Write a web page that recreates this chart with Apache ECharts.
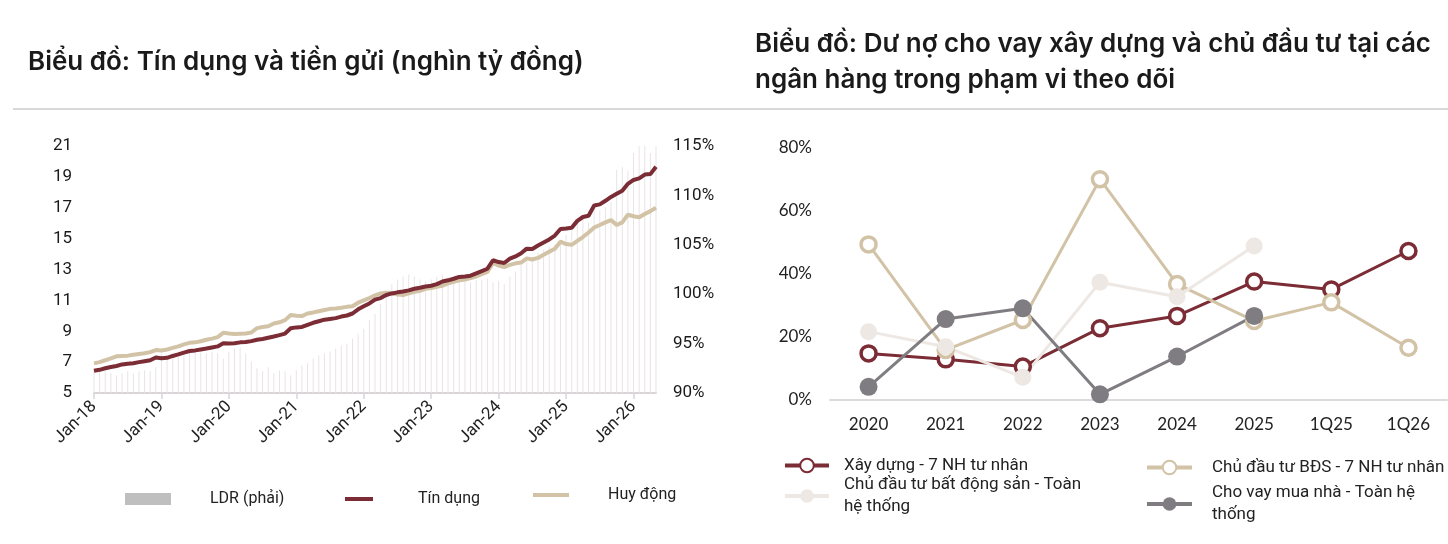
<!DOCTYPE html>
<html>
<head>
<meta charset="utf-8">
<script src="https://cdn.jsdelivr.net/npm/echarts@6/dist/echarts.min.js"></script>
<style>
  html, body { margin: 0; padding: 0; background: #fff; }
  #chart { width: 1448px; height: 544px; }
</style>
</head>
<body>
<div id="chart"></div>
<script>
// ---- left chart: tín dụng / huy động (nghìn tỷ đồng), LDR (%) ----
var monthNames = ['Jan', 'Feb', 'Mar', 'Apr', 'May', 'Jun', 'Jul', 'Aug', 'Sep', 'Oct', 'Nov', 'Dec'];
var years = ['18', '19', '20', '21', '22', '23', '24', '25', '26'];
var monthCount = 101; // Jan-18 .. May-26

var tinDung = [
  6.44, 6.50, 6.60, 6.68, 6.75, 6.85, 6.90, 6.93, 7.00, 7.06, 7.12, 7.30,
  7.25, 7.28, 7.40, 7.50, 7.62, 7.72, 7.76, 7.82, 7.88, 7.95, 8.02, 8.22,
  8.20, 8.22, 8.28, 8.30, 8.36, 8.45, 8.50, 8.58, 8.66, 8.75, 8.85, 9.19,
  9.25, 9.28, 9.42, 9.55, 9.65, 9.75, 9.80, 9.85, 9.95, 10.02, 10.15, 10.42,
  10.62, 10.80, 11.05, 11.15, 11.35, 11.45, 11.52, 11.58, 11.65, 11.75, 11.82, 11.90,
  11.95, 12.05, 12.22, 12.30, 12.40, 12.52, 12.55, 12.60, 12.75, 12.90, 13.05, 13.60,
  13.48, 13.42, 13.70, 13.85, 14.05, 14.35, 14.33, 14.55, 14.75, 14.95, 15.20, 15.62,
  15.65, 15.70, 16.15, 16.40, 16.48, 17.15, 17.22, 17.45, 17.70, 17.90, 18.10, 18.55,
  18.80, 18.90, 19.15, 19.18, 19.66
];

var huyDong = [
  6.92, 7.00, 7.12, 7.25, 7.38, 7.40, 7.42, 7.48, 7.53, 7.58, 7.65, 7.78,
  7.75, 7.82, 7.92, 8.02, 8.15, 8.25, 8.28, 8.35, 8.45, 8.52, 8.62, 8.90,
  8.85, 8.82, 8.84, 8.86, 8.92, 9.20, 9.28, 9.32, 9.50, 9.58, 9.72, 10.05,
  10.00, 9.98, 10.15, 10.22, 10.30, 10.38, 10.45, 10.48, 10.52, 10.58, 10.62, 10.85,
  11.00, 11.15, 11.32, 11.45, 11.50, 11.48, 11.38, 11.35, 11.45, 11.55, 11.62, 11.75,
  11.80, 11.88, 11.95, 12.10, 12.20, 12.30, 12.35, 12.45, 12.55, 12.70, 12.85, 13.42,
  13.25, 13.15, 13.30, 13.40, 13.45, 13.72, 13.65, 13.75, 13.95, 14.15, 14.35, 14.80,
  14.65, 14.60, 14.85, 15.10, 15.40, 15.72, 15.88, 16.05, 16.20, 15.88, 16.05, 16.55,
  16.45, 16.38, 16.60, 16.78, 17.00
];

var ldr = [
  92.5, 92.3, 92.2, 92.0, 91.8, 92.0, 92.2, 92.0, 92.2, 92.3, 92.2, 92.6,
  94.0, 93.8, 94.0, 94.2, 94.0, 94.2, 94.3, 94.1, 94.0, 94.2, 94.0, 93.5,
  94.2, 94.5, 94.6, 94.0, 93.2, 92.5, 92.2, 92.6, 92.0, 92.3, 92.2, 91.8,
  92.3, 92.8, 93.0, 93.5, 93.8, 94.0, 94.2, 94.5, 94.8, 95.0, 95.5, 96.0,
  96.5, 97.4, 98.0, 99.0, 100.0, 101.0, 101.5, 101.8, 102.0, 101.8, 101.5, 101.3,
  101.5, 101.8, 102.0, 101.8, 101.5, 101.8, 101.7, 101.2, 101.4, 101.5, 101.6, 101.2,
  101.3, 101.0, 101.8, 102.3, 103.0, 103.5, 103.8, 104.2, 104.5, 104.8, 105.0, 105.5,
  106.0, 106.5, 107.2, 107.8, 107.2, 108.5, 108.5, 108.8, 109.3, 112.6, 112.9, 112.5,
  114.3, 115.0, 115.0, 114.3, 115.0
];

// ---- right chart: tăng trưởng dư nợ (%) ----
var periods = ['2020', '2021', '2022', '2023', '2024', '2025', '1Q25', '1Q26'];
var xayDung7NH = [14.8, 12.9, 10.6, 22.8, 26.7, 37.6, 35.1, 47.3];
var cdtBds7NH = [49.4, 15.9, 25.4, 70.1, 36.8, 25.1, 31.0, 16.6];
var cdtBdsToanHT = [21.7, 16.9, 7.2, 37.4, 32.8, 48.9, null, null];
var muaNhaToanHT = [4.2, 25.7, 29.1, 1.8, 13.8, 26.7, null, null];

var months = [];
for (var i = 0; i < monthCount; i++) {
  months.push(monthNames[i % 12] + '-' + years[Math.floor(i / 12)]);
}

var RED = '#7b2c35';
var BEIGE = '#d2c3a7';
var LIGHT = '#eee8e4';
var GRAY = '#807d82';
var FONT = 'Roboto, "Noto Sans", sans-serif';
var TITLE_FONT = 'Inter, Roboto, sans-serif';

var isJan = function (idx) { return idx % 12 === 0; };

var chart = echarts.init(document.getElementById('chart'));

chart.setOption({
  animation: false,
  backgroundColor: '#fff',
  textStyle: { fontFamily: FONT },
  title: [
    {
      text: 'Biểu đồ: Tín dụng và tiền gửi (nghìn tỷ đồng)',
      left: 28, top: 47, padding: 0,
      textStyle: { fontFamily: TITLE_FONT, fontSize: 26, fontWeight: 600, color: '#1a1a1a', lineHeight: 30 }
    },
    {
      text: 'Biểu đồ: Dư nợ cho vay xây dựng và chủ đầu tư tại các\nngân hàng trong phạm vi theo dõi',
      left: 755, top: 26, padding: 0,
      textStyle: { fontFamily: TITLE_FONT, fontSize: 26, fontWeight: 600, color: '#1a1a1a', lineHeight: 36 }
    }
  ],
  graphic: [
    {
      type: 'line',
      shape: { x1: 13, y1: 109, x2: 1448, y2: 109 },
      style: { stroke: '#cdcdcd', lineWidth: 1.5 }
    }
  ],
  legend: [
    {
      data: ['LDR (phải)'], left: 120, top: 486, icon: 'rect',
      itemWidth: 46, itemHeight: 12, selectedMode: false,
      itemStyle: { color: '#bfbfbf' },
      textStyle: { fontSize: 16, color: '#222', padding: [4, 0, 0, 34] }
    },
    {
      data: ['Tín dụng'], left: 340, top: 486, icon: 'rect',
      itemWidth: 28, itemHeight: 4, selectedMode: false,
      textStyle: { fontSize: 16, color: '#222', padding: [12, 0, 0, 40] }
    },
    {
      data: ['Huy động'], left: 528, top: 482, icon: 'rect',
      itemWidth: 36, itemHeight: 4, selectedMode: false,
      textStyle: { fontSize: 16, color: '#222', padding: [0, 0, 4, 34] }
    },
    {
      data: ['Xây dựng - 7 NH tư nhân'], left: 778, top: 452,
      itemWidth: 44, itemHeight: 17, selectedMode: false,
      lineStyle: { width: 4 },
      textStyle: { fontSize: 17, color: '#222', padding: [0, 0, 0, 10] }
    },
    {
      data: ['Chủ đầu tư BĐS - 7 NH tư nhân'], left: 1140, top: 454,
      itemWidth: 45, itemHeight: 17, selectedMode: false,
      lineStyle: { width: 4 },
      textStyle: { fontSize: 17, color: '#222', padding: [0, 0, 0, 15] }
    },
    {
      data: ['Chủ đầu tư bất động sản - Toàn hệ thống'], left: 778, top: 469,
      itemWidth: 44, itemHeight: 17, selectedMode: false,
      lineStyle: { width: 4 },
      formatter: function () { return 'Chủ đầu tư bất động sản - Toàn\nhệ thống'; },
      textStyle: { fontSize: 17, color: '#222', lineHeight: 22, padding: [0, 0, 0, 10] }
    },
    {
      data: ['Cho vay mua nhà - Toàn hệ thống'], left: 1140, top: 477,
      itemWidth: 45, itemHeight: 17, selectedMode: false,
      lineStyle: { width: 4 },
      formatter: function () { return 'Cho vay mua nhà - Toàn hệ\nthống'; },
      textStyle: { fontSize: 17, color: '#222', lineHeight: 22, padding: [0, 0, 0, 15] }
    }
  ],
  grid: [
    { left: 94, top: 146, width: 562, height: 247 },
    { left: 830, top: 148, width: 617, height: 252 }
  ],
  xAxis: [
    {
      type: 'category', gridIndex: 0, data: months, boundaryGap: false,
      axisLine: { lineStyle: { color: '#d9d4d7', width: 2 } },
      axisTick: { interval: isJan, length: 6, lineStyle: { color: '#d9d4d7', width: 1.5 } },
      axisLabel: { interval: isJan, rotate: 45, margin: 11, fontSize: 17, color: '#222', fontFamily: FONT }
    },
    {
      type: 'category', gridIndex: 1, data: periods,
      axisLine: { lineStyle: { color: '#dcdadb', width: 2 } },
      axisTick: { show: false },
      axisLabel: { margin: 16, fontSize: 17, color: '#222', fontFamily: 'Lato, sans-serif' }
    }
  ],
  yAxis: [
    {
      type: 'value', gridIndex: 0, min: 5, max: 21, interval: 2,
      axisLine: { show: false }, axisTick: { show: false }, splitLine: { show: false },
      axisLabel: { margin: 22, fontSize: 17, color: '#1a1a1a', fontFamily: FONT }
    },
    {
      type: 'value', gridIndex: 0, min: 90, max: 115, interval: 5, position: 'right',
      axisLine: { show: false }, axisTick: { show: false }, splitLine: { show: false },
      axisLabel: { margin: 17, fontSize: 17, color: '#1a1a1a', fontFamily: FONT, formatter: '{value}%' }
    },
    {
      type: 'value', gridIndex: 1, min: 0, max: 80, interval: 20,
      axisLine: { show: false }, axisTick: { show: false }, splitLine: { show: false },
      axisLabel: { margin: 18, fontSize: 17, color: '#222', fontFamily: 'Lato, sans-serif', formatter: '{value}%' }
    }
  ],
  series: [
    {
      name: 'LDR (phải)', type: 'bar', xAxisIndex: 0, yAxisIndex: 1,
      data: ldr, barWidth: 1, itemStyle: { color: '#e9e3e7' }, z: 1
    },
    {
      name: 'Huy động', type: 'line', xAxisIndex: 0, yAxisIndex: 0,
      data: huyDong, symbol: 'none', color: BEIGE,
      lineStyle: { color: BEIGE, width: 4 }, z: 2
    },
    {
      name: 'Tín dụng', type: 'line', xAxisIndex: 0, yAxisIndex: 0,
      data: tinDung, symbol: 'none', color: RED,
      lineStyle: { color: RED, width: 4 }, z: 3
    },
    {
      name: 'Xây dựng - 7 NH tư nhân', type: 'line', xAxisIndex: 1, yAxisIndex: 2,
      data: xayDung7NH, symbol: 'circle', symbolSize: 15, color: RED,
      lineStyle: { color: RED, width: 3 },
      itemStyle: { color: '#fff', borderColor: RED, borderWidth: 3.5 }
    },
    {
      name: 'Chủ đầu tư BĐS - 7 NH tư nhân', type: 'line', xAxisIndex: 1, yAxisIndex: 2,
      data: cdtBds7NH, symbol: 'circle', symbolSize: 15, color: BEIGE,
      lineStyle: { color: BEIGE, width: 3 },
      itemStyle: { color: '#fff', borderColor: BEIGE, borderWidth: 3.5 }
    },
    {
      name: 'Chủ đầu tư bất động sản - Toàn hệ thống', type: 'line', xAxisIndex: 1, yAxisIndex: 2,
      data: cdtBdsToanHT, symbol: 'circle', symbolSize: 17, color: LIGHT,
      lineStyle: { color: LIGHT, width: 3 },
      itemStyle: { color: LIGHT }
    },
    {
      name: 'Cho vay mua nhà - Toàn hệ thống', type: 'line', xAxisIndex: 1, yAxisIndex: 2,
      data: muaNhaToanHT, symbol: 'circle', symbolSize: 18, color: GRAY,
      lineStyle: { color: GRAY, width: 3 },
      itemStyle: { color: GRAY }
    }
  ]
});
</script>
</body>
</html>
